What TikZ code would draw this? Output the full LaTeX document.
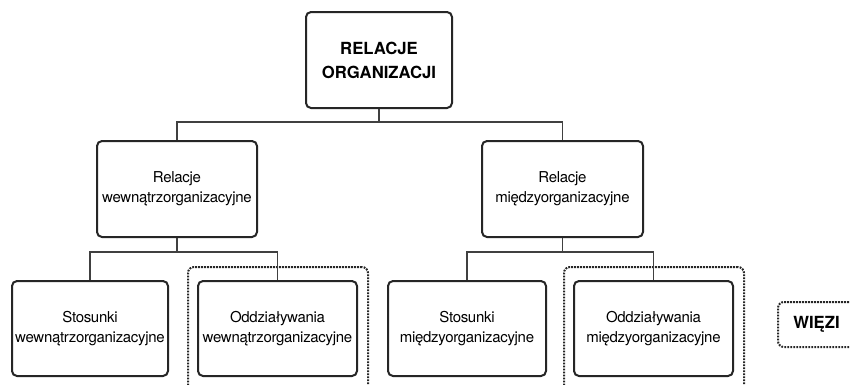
\documentclass[tikz,border=0pt]{standalone}
\usepackage{fontspec}
\setmainfont{TeX Gyre Heros}
\begin{document}
\begin{tikzpicture}[x=1pt,y=-1pt,
  box/.style={draw=black!85, line width=2pt, rounded corners=5pt, align=center, inner sep=0pt,
    font=\fontsize{15}{20}\selectfont\addfontfeature{LetterSpace=-2}, text=black},
  titlebox/.style={box, font=\fontsize{16.7}{24}\selectfont\bfseries},
  link/.style={draw=black!75, line width=1.3pt},
  dotbox/.style={draw=black!85, line width=2pt, dash pattern=on 1.8pt off 1.2pt, rounded corners=6pt, inner sep=0pt},
  boldlabel/.style={font=\fontsize{16.7}{20}\selectfont\bfseries, text=black, inner sep=0pt}]
\clip (0,0) rectangle (850,384);
\fill[white] (0,0) rectangle (850,384);
% dotted frames
\node[dotbox, minimum width=180pt, minimum height=133pt] (d1) at (278,333.5) {};
\node[dotbox, minimum width=180pt, minimum height=133pt] (d2) at (654,333.5) {};
\node[dotbox, minimum width=92pt, minimum height=45pt] (wframe) at (824,324.5) {};
\node[boldlabel] (wiezi) at (816.5,324.5) {WIĘZI};
% boxes
\node[titlebox, minimum width=146pt, minimum height=96pt] (top) at (379,60) {RELACJE\\ORGANIZACJI};
\node[box, minimum width=160pt, minimum height=96pt] (ml) at (177,189) {Relacje\\wewnątrzorganizacyjne};
\node[box, minimum width=161pt, minimum height=96pt] (mr) at (562.5,189) {Relacje\\międzyorganizacyjne};
\node[box, minimum width=156pt, minimum height=95pt] (b1) at (90,328.5) {Stosunki\\wewnątrzorganizacyjne};
\node[box, minimum width=159pt, minimum height=95pt] (b2) at (277.5,328.5) {Oddziaływania\\wewnątrzorganizacyjne};
\node[box, minimum width=158pt, minimum height=95pt] (b3) at (467,328.5) {Stosunki\\międzyorganizacyjne};
\node[box, minimum width=159pt, minimum height=95pt] (b4) at (653.5,328.5) {Oddziaływania\\międzyorganizacyjne};
% junctions
\coordinate (j0) at (379,122);
\coordinate (j1) at (177,252);
\coordinate (j2) at (562.5,252);
% connectors
\draw[link] (top.south) -- (j0);
\draw[link] (ml.north) -- (ml.north |- j0) -- (mr.north |- j0) -- (mr.north);
\draw[link] (ml.south) -- (j1);
\draw[link] (b1.north) -- (b1.north |- j1) -- (b2.north |- j1) -- (b2.north);
\draw[link] (mr.south) -- (j2);
\draw[link] (b3.north) -- (b3.north |- j2) -- (b4.north |- j2) -- (b4.north);
\end{tikzpicture}
\end{document}
